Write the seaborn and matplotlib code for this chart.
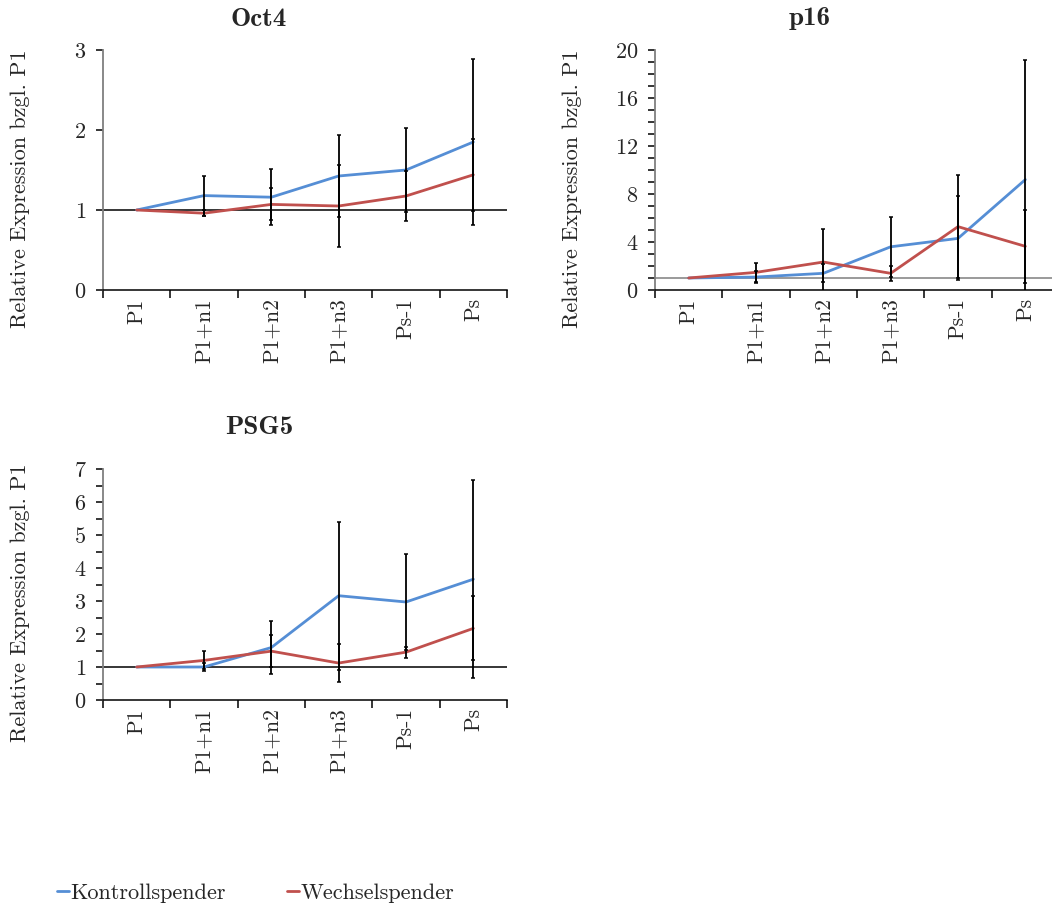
import numpy as np
import pandas as pd
import matplotlib
matplotlib.use("Agg")
import matplotlib.pyplot as plt
from matplotlib.ticker import MultipleLocator, FixedLocator, NullFormatter
from matplotlib.lines import Line2D
import seaborn as sns

# ---------------- data ----------------
categories = ["P1", "P1+n1", "P1+n2", "P1+n3", "Ps-1", "Ps"]
series_names = ["Kontrollspender", "Wechselspender"]

oct4_kontroll = [1.0, 1.18, 1.16, 1.425, 1.50, 1.85]
oct4_kontroll_err = [0.0, 0.25, 0.35, 0.51, 0.53, 1.04]
oct4_wechsel = [1.0, 0.96, 1.07, 1.05, 1.175, 1.44]
oct4_wechsel_err = [0.0, 0.04, 0.20, 0.51, 0.31, 0.45]

p16_kontroll = [1.0, 1.08, 1.39, 3.6, 4.3, 9.2]
p16_kontroll_err = [0.0, 0.5, 0.75, 2.5, 3.5, 10.0]
p16_wechsel = [1.0, 1.47, 2.33, 1.39, 5.28, 3.64]
p16_wechsel_err = [0.0, 0.81, 2.73, 0.61, 4.3, 3.03]

psg5_kontroll = [1.0, 1.0, 1.59, 3.16, 2.97, 3.66]
psg5_kontroll_err = [0.0, 0.13, 0.79, 2.24, 1.45, 3.0]
psg5_wechsel = [1.0, 1.2, 1.48, 1.12, 1.45, 2.17]
psg5_wechsel_err = [0.0, 0.27, 0.48, 0.58, 0.17, 0.97]

titles = ["Oct4", "p16", "PSG5"]
ylabel = "Relative Expression bzgl. P1"

# ---------------- style ----------------
sns.set_theme(style="ticks")
plt.rcParams["font.family"] = ["cmr10", "DejaVu Serif"]
plt.rcParams["axes.formatter.use_mathtext"] = True
plt.rcParams["mathtext.fontset"] = "cm"

colors = {"Kontrollspender": "#558ED5", "Wechselspender": "#C0504D"}

W, H = 1052, 906
fig = plt.figure(figsize=(W / 100, H / 100), dpi=100)


def px_axes(left, top, right, bottom):
    return fig.add_axes([left / W, 1 - bottom / H, (right - left) / W, (bottom - top) / H])


panels = [
    dict(title=titles[0], k=oct4_kontroll, ke=oct4_kontroll_err, w=oct4_wechsel, we=oct4_wechsel_err,
         box=(103, 50, 507, 290), ylim=(0, 3), major=1, minor=None, hline="black",
         title_xy=(259, 19)),
    dict(title=titles[1], k=p16_kontroll, ke=p16_kontroll_err, w=p16_wechsel, we=p16_wechsel_err,
         box=(655, 50, 1059, 290), ylim=(0, 20), major=4, minor=1, hline="#7f7f7f",
         title_xy=(810, 19)),
    dict(title=titles[2], k=psg5_kontroll, ke=psg5_kontroll_err, w=psg5_wechsel, we=psg5_wechsel_err,
         box=(103, 469, 507, 700), ylim=(0, 7), major=1, minor=0.5, hline="black",
         title_xy=(259, 428)),
]

for p in panels:
    ax = px_axes(*p["box"])
    df = pd.DataFrame({
        "Stufe": categories * 2,
        "Wert": list(p["k"]) + list(p["w"]),
        "Spender": [series_names[0]] * len(categories) + [series_names[1]] * len(categories),
    })
    ax.axhline(1, color=p["hline"], lw=1.1, zorder=1)
    sns.lineplot(data=df, x="Stufe", y="Wert", hue="Spender", palette=colors,
                 linewidth=2.0, legend=False, errorbar=None, ax=ax, zorder=3)
    pos = np.arange(len(categories))
    for vals, errs in ((p["k"], p["ke"]), (p["w"], p["we"])):
        vals = np.asarray(vals)
        errs = np.asarray(errs)
        m = errs > 0
        ax.errorbar(pos[m], vals[m], yerr=errs[m], fmt="none", ecolor="black",
                    elinewidth=1.3, capsize=1.3, capthick=1.1, zorder=4)

    ax.set_xlim(-0.5, len(categories) - 0.5)
    ax.set_ylim(*p["ylim"])
    ax.xaxis.set_major_locator(FixedLocator(np.arange(-0.5, len(categories), 1.0)))
    ax.xaxis.set_major_formatter(NullFormatter())
    ax.set_xticks(pos, minor=True)
    ax.set_xticklabels(categories, minor=True, rotation=90, fontsize=15.5, va="top", ha="center")
    ax.tick_params(axis="x", which="minor", length=0, pad=6)
    ax.tick_params(axis="x", which="major", length=6, width=1.1, direction="out", color="black")

    ax.yaxis.set_major_locator(MultipleLocator(p["major"]))
    if p["minor"]:
        ax.yaxis.set_minor_locator(MultipleLocator(p["minor"]))
        ax.tick_params(axis="y", which="minor", length=5, width=1.1, direction="out", color="black")
    ax.tick_params(axis="y", which="major", length=5, width=1.1, direction="out",
                   color="black", labelsize=16, pad=7)

    for s in ("top", "right"):
        ax.spines[s].set_visible(False)
    ax.spines["left"].set_color("#7f7f7f")
    ax.spines["left"].set_linewidth(1.3)
    ax.spines["bottom"].set_color("black")
    ax.spines["bottom"].set_linewidth(1.1)

    ax.set_xlabel("")
    ax.set_ylabel(ylabel, fontsize=16)
    ax.yaxis.set_label_coords(-73 / 404, 0.42)

    tx, ty = p["title_xy"]
    fig.text(tx / W, 1 - ty / H, p["title"], ha="center", va="center",
             fontsize=19.5, family=["cmb10", "DejaVu Serif"], fontweight="bold")

handles = [Line2D([0], [0], color=colors[n], lw=2.0) for n in series_names]
fig.legend(handles, series_names, loc="center left", bbox_to_anchor=(57 / W, 1 - 893 / H),
           ncol=2, frameon=False, handlelength=0.55, handletextpad=0.05, columnspacing=2.75,
           borderaxespad=0, borderpad=0, fontsize=16)

fig.savefig("out.png", dpi=100)
